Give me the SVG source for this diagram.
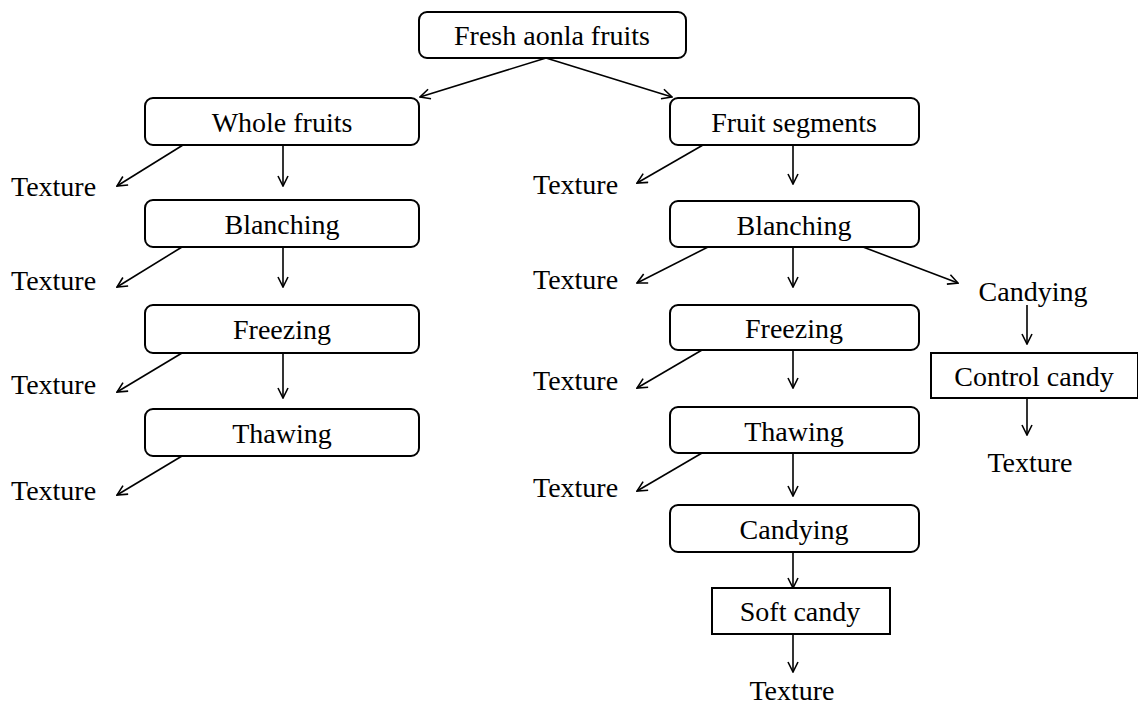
<svg xmlns="http://www.w3.org/2000/svg" width="1138" height="709" viewBox="0 0 1138 709">
<style>
.box{fill:#fff;stroke:#000;stroke-width:2}
.t{font-family:"Liberation Serif","Times New Roman",serif;font-size:28px;fill:#000}
.m{text-anchor:middle}
.c line{stroke:#000;stroke-width:1.6;fill:none;marker-end:url(#ah)}
</style>
<defs>
<marker id="ah" viewBox="0 0 12 12" refX="11" refY="6" markerWidth="12" markerHeight="12" markerUnits="userSpaceOnUse" orient="auto">
<path d="M1,1 L11,6 L1,11" fill="none" stroke="#000" stroke-width="1.6"/>
</marker>
</defs>
<rect width="1138" height="709" fill="#fff"/>
<g class="c" id="connectors">
<line x1="546" y1="58" x2="420" y2="97"/>
<line x1="546" y1="58" x2="672" y2="97"/>
<line x1="283" y1="145" x2="283" y2="186"/>
<line x1="283" y1="247" x2="283" y2="287"/>
<line x1="283" y1="353" x2="283" y2="398"/>
<line x1="183" y1="145" x2="117" y2="186"/>
<line x1="182" y1="247" x2="117" y2="287"/>
<line x1="182" y1="353" x2="117" y2="392"/>
<line x1="182" y1="456" x2="117" y2="495"/>
<line x1="793" y1="145" x2="793" y2="184"/>
<line x1="793" y1="247" x2="793" y2="287"/>
<line x1="793" y1="350" x2="793" y2="388"/>
<line x1="793" y1="453" x2="793" y2="496"/>
<line x1="793" y1="552" x2="793" y2="588"/>
<line x1="793" y1="634" x2="793" y2="672"/>
<line x1="703" y1="145" x2="637" y2="183"/>
<line x1="708" y1="247" x2="637" y2="283"/>
<line x1="702" y1="350" x2="637" y2="388"/>
<line x1="702" y1="453" x2="637" y2="491"/>
<line x1="863" y1="247" x2="958" y2="283"/>
<line x1="1027" y1="305" x2="1027" y2="344"/>
<line x1="1027" y1="398" x2="1027" y2="435"/>
</g>
<g id="fresh"><rect class="box" x="419" y="12" width="267" height="46" rx="8"/><text class="t m" x="552" y="45">Fresh aonla fruits</text></g>
<g id="whole"><rect class="box" x="145" y="98" width="274" height="47" rx="8"/><text class="t m" x="282" y="132">Whole fruits</text></g>
<g id="blanchL"><rect class="box" x="145" y="200" width="274" height="47" rx="8"/><text class="t m" x="282" y="234">Blanching</text></g>
<g id="freezeL"><rect class="box" x="145" y="305" width="274" height="48" rx="8"/><text class="t m" x="282" y="339">Freezing</text></g>
<g id="thawL"><rect class="box" x="145" y="409" width="274" height="47" rx="8"/><text class="t m" x="282" y="443">Thawing</text></g>
<g id="texL1"><text class="t" x="11" y="196">Texture</text></g>
<g id="texL2"><text class="t" x="11" y="290">Texture</text></g>
<g id="texL3"><text class="t" x="11" y="394">Texture</text></g>
<g id="texL4"><text class="t" x="11" y="500">Texture</text></g>
<g id="segments"><rect class="box" x="670" y="98" width="249" height="47" rx="8"/><text class="t m" x="794" y="132">Fruit segments</text></g>
<g id="blanchR"><rect class="box" x="670" y="201" width="249" height="46" rx="8"/><text class="t m" x="794" y="235">Blanching</text></g>
<g id="freezeR"><rect class="box" x="670" y="305" width="249" height="45" rx="8"/><text class="t m" x="794" y="338">Freezing</text></g>
<g id="thawR"><rect class="box" x="670" y="407" width="249" height="46" rx="8"/><text class="t m" x="794" y="441">Thawing</text></g>
<g id="candyingR"><rect class="box" x="670" y="505" width="249" height="47" rx="8"/><text class="t m" x="794" y="539">Candying</text></g>
<g id="soft"><rect class="box" x="712" y="588" width="178" height="46"/><text class="t m" x="800" y="621">Soft candy</text></g>
<g id="texSoft"><text class="t m" x="792" y="700">Texture</text></g>
<g id="texR1"><text class="t" x="533" y="194">Texture</text></g>
<g id="texR2"><text class="t" x="533" y="289">Texture</text></g>
<g id="texR3"><text class="t" x="533" y="390">Texture</text></g>
<g id="texR4"><text class="t" x="533" y="497">Texture</text></g>
<g id="candyingSide"><text class="t m" x="1033" y="301">Candying</text></g>
<g id="control"><rect class="box" x="931" y="353" width="207" height="45"/><text class="t m" x="1034" y="386">Control candy</text></g>
<g id="texControl"><text class="t m" x="1030" y="472">Texture</text></g>
</svg>
